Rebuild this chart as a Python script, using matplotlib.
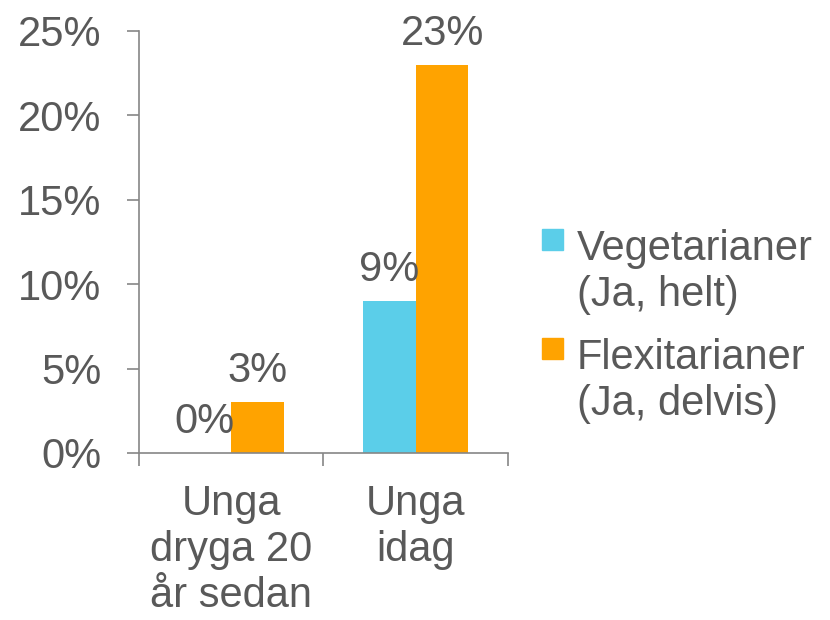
import matplotlib.pyplot as plt
from matplotlib.patches import Rectangle

plt.rcParams['font.family'] = ['Liberation Sans', 'DejaVu Sans']

categories = ['Unga\ndryga 20\når sedan', 'Unga\nidag']
series_names = ['Vegetarianer\n(Ja, helt)', 'Flexitarianer\n(Ja, delvis)']
vegetarianer = [0, 9]
flexitarianer = [3, 23]
yticks = [0, 5, 10, 15, 20, 25]

colors = ['#5BCEE9', '#FFA300']
text_col = '#595959'
axis_col = '#868686'
fs = 30

fig = plt.figure(figsize=(8.3, 6.2), dpi=100)
ax = fig.add_axes([0.1675, 0.2694, 0.4445, 0.6806])

width = 1 / 3.5
x = range(len(categories))
for i, vals in enumerate([vegetarianer, flexitarianer]):
    pos = [xi + (i - 0.5) * width for xi in x]
    bars = ax.bar(pos, vals, width=width, color=colors[i])
    for b, v in zip(bars, vals):
        ax.annotate(f'{v}%', (b.get_x() + b.get_width() / 2, v),
                    xytext=(0, 8), textcoords='offset points',
                    ha='center', va='bottom', fontsize=fs, color=text_col)

ax.set_xlim(-0.5, 1.5)
ax.set_ylim(0, 25)
ax.set_yticks(yticks)
ax.set_yticklabels([f'{t}%' for t in yticks])
ax.set_xticks([-0.5, 0.5, 1.5])
ax.set_xticklabels([])
ax.set_xticks(list(x), minor=True)
ax.set_xticklabels(categories, minor=True, fontsize=fs, color=text_col,
                   linespacing=1.2)
ax.tick_params(axis='x', which='minor', length=0, pad=22)
ax.tick_params(axis='x', which='major', length=9, color=axis_col, width=1.2)
ax.tick_params(axis='y', length=9, color=axis_col, width=1.2,
               labelsize=fs, labelcolor=text_col, pad=18)

for s in ['top', 'right']:
    ax.spines[s].set_visible(False)
for s in ['left', 'bottom']:
    ax.spines[s].set_color(axis_col)
    ax.spines[s].set_linewidth(1.2)

# legend drawn by hand so the swatch sits on the first line
leg_y = [0.631, 0.455]
for name, c, y in zip(series_names, colors, leg_y):
    fig.patches.append(Rectangle((0.653, y - 0.034), 0.025, 0.034,
                                 transform=fig.transFigure, color=c))
    fig.text(0.695, y + 0.0, name, fontsize=fs, color=text_col,
             va='top', ha='left', linespacing=1.2)

fig.savefig('out.png', dpi=100)
